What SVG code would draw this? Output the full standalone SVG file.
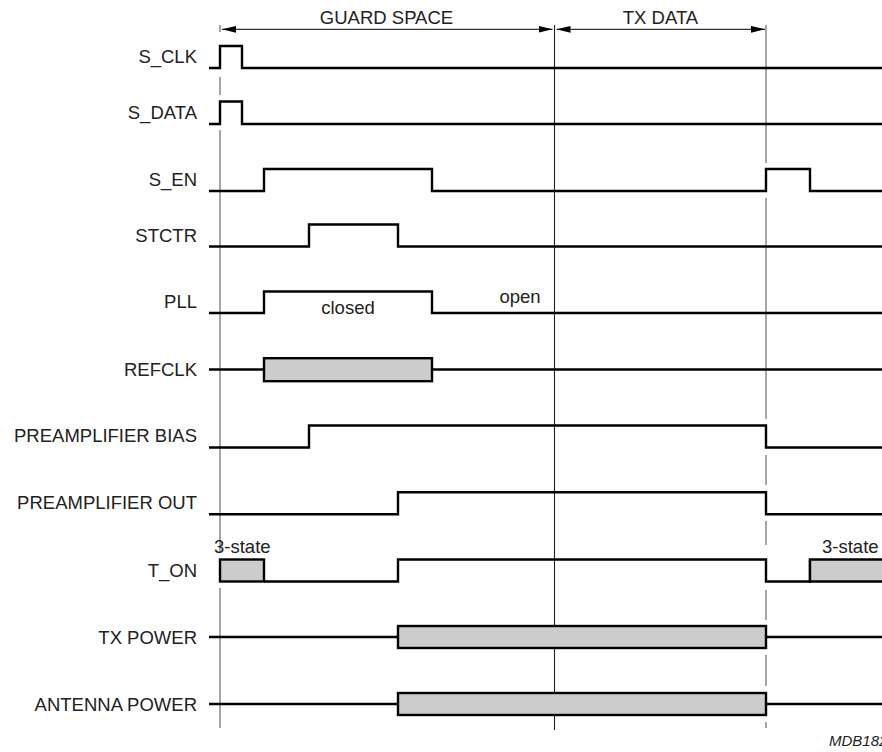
<svg xmlns="http://www.w3.org/2000/svg" width="882" height="752" viewBox="0 0 882 752">
<style>
.sig{fill:none;stroke:#000;stroke-width:2.4;stroke-linejoin:miter;stroke-linecap:butt}
.box{fill:#cccccc;stroke:#000;stroke-width:2.4}
.lbl{font-family:"Liberation Sans",Arial,sans-serif;font-size:18.5px;fill:#222;text-anchor:end}
.txt{font-family:"Liberation Sans",Arial,sans-serif;font-size:18.5px;fill:#222}
.vg{stroke:#808080;stroke-width:1.4;fill:none}
.vb{stroke:#222;stroke-width:1.1;fill:none}
.dim{stroke:#000;stroke-width:1;fill:none;marker-start:url(#ah);marker-end:url(#ah)}
</style>
<defs>
<marker id="ah" markerUnits="userSpaceOnUse" markerWidth="15" markerHeight="8" refX="14" refY="3.4" orient="auto-start-reverse">
<path d="M0,0 L14,3.4 L0,6.8 z" fill="#000"/>
</marker>
</defs>
<rect width="882" height="752" fill="#fff"/>
<g id="connectors">
<path class="vg" d="M220,25 V32 M220,77 V95 M220,130 V552 M220,588 V728"/>
<path class="vb" d="M554.5,25 V730"/>
<path class="vg" d="M766,25 V163 M766,198 V419 M766,455 V485 M766,521 V545 M766,590 V620 M766,655 V686 M766,722 V728"/>
<path class="dim" d="M222,29.3 H552.5"/>
<path class="dim" d="M556.5,29.3 H765"/>
<text class="txt" x="386.5" y="24" text-anchor="middle">GUARD SPACE</text>
<text class="txt" x="660.5" y="24" text-anchor="middle">TX DATA</text>
</g>
<g id="s_clk">
<text class="lbl" x="197" y="63">S_CLK</text>
<path class="sig" d="M209,68 H220 V46 H242 V68 H882"/>
</g>
<g id="s_data">
<text class="lbl" x="197" y="119">S_DATA</text>
<path class="sig" d="M209,124 H220 V101.5 H242 V124 H882"/>
</g>
<g id="s_en">
<text class="lbl" x="197" y="186">S_EN</text>
<path class="sig" d="M209,191 H264 V169 H432 V191 H766 V169 H810 V191 H882"/>
</g>
<g id="stctr">
<text class="lbl" x="197" y="241.5">STCTR</text>
<path class="sig" d="M209,246.5 H309 V224.5 H398 V246.5 H882"/>
</g>
<g id="pll">
<text class="lbl" x="197" y="308">PLL</text>
<path class="sig" d="M209,313 H264 V291.5 H432 V313 H882"/>
<text class="txt" x="348" y="314" text-anchor="middle">closed</text>
<text class="txt" x="520" y="303" text-anchor="middle">open</text>
</g>
<g id="refclk">
<text class="lbl" x="197" y="376">REFCLK</text>
<path class="sig" d="M209,369.5 H264 M432,369.5 H882"/>
<rect class="box" x="264" y="358.2" width="168" height="23"/>
</g>
<g id="preamp_bias">
<text class="lbl" x="197" y="442">PREAMPLIFIER BIAS</text>
<path class="sig" d="M209,447.5 H309 V425.5 H766 V447.5 H882"/>
</g>
<g id="preamp_out">
<text class="lbl" x="197" y="509">PREAMPLIFIER OUT</text>
<path class="sig" d="M209,514.3 H398 V492.3 H766 V514.3 H882"/>
</g>
<g id="t_on">
<text class="lbl" x="197" y="576.5">T_ON</text>
<rect class="box" x="220" y="559.5" width="44" height="22"/>
<path class="sig" d="M264,581.5 H398 V559.5 H766 V581.5 H810 V559.5"/>
<path d="M810,559.5 H884 V581.5 H810 Z" fill="#cccccc" stroke="#000" stroke-width="2.4"/>
<text class="txt" x="214" y="553">3-state</text>
<text class="txt" x="822" y="553">3-state</text>
</g>
<g id="tx_power">
<text class="lbl" x="197" y="644">TX POWER</text>
<path class="sig" d="M209,637 H398 M766,637 H882"/>
<rect class="box" x="398" y="626" width="368" height="22"/>
</g>
<g id="antenna_power">
<text class="lbl" x="197" y="711">ANTENNA POWER</text>
<path class="sig" d="M209,704 H398 M766,704 H882"/>
<rect class="box" x="398" y="693" width="368" height="22"/>
</g>
<text x="829" y="746" font-family="'Liberation Sans',Arial,sans-serif" font-size="15" font-style="italic" fill="#222">MDB182</text>
</svg>
